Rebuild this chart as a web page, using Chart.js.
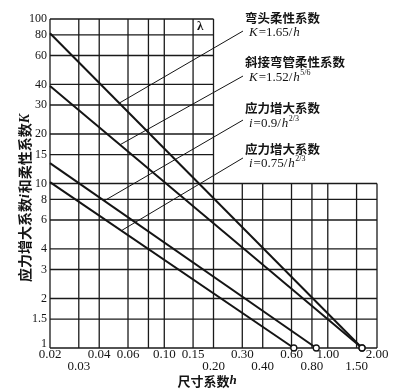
<!DOCTYPE html>
<html>
<head>
<meta charset="utf-8">
<script src="https://cdn.jsdelivr.net/npm/chart.js@4.4.0/dist/chart.umd.min.js"></script>
<style>
html, body { margin: 0; padding: 0; background: #fff; }
#wrap { width: 398px; height: 392px; }
</style>
</head>
<body>
<div id="wrap"><canvas id="chart" width="398" height="392"></canvas></div>
<script>
// axis ticks (log-log grid)
const hTicks = [0.02, 0.03, 0.04, 0.06, 0.08, 0.10, 0.15, 0.20, 0.30, 0.40, 0.60, 0.80, 1.00, 1.50, 2.00];
const hLabelsTop = ['0.02', '0.04', '0.06', '0.10', '0.15', '0.30', '0.60', '1.00', '2.00'];
const hLabelsLow = ['0.03', '0.20', '0.40', '0.80', '1.50'];
const kTicks = [1, 1.5, 2, 3, 4, 6, 8, 10, 15, 20, 30, 40, 60, 80, 100];
const kLabels = ['1', '1.5', '2', '3', '4', '6', '8', '10', '15', '20', '30', '40', '60', '80', '100'];

// curves: value at h = 0.02 and where each reaches 1
const elbowK = [{x: 0.02, y: 82}, {x: 1.62, y: 1}];
const miterK = [{x: 0.02, y: 39.2}, {x: 1.62, y: 1}];
const stressI90 = [{x: 0.02, y: 13.3}, {x: 0.85, y: 1}];
const stressI75 = [{x: 0.02, y: 10.2}, {x: 0.62, y: 1}];

// leader lines: label end -> point on curve
const leaderElbow = [{x: 0.303, y: 84.5}, {x: 0.0536, y: 31}];
const leaderMiter = [{x: 0.303, y: 45}, {x: 0.0536, y: 17.2}];
const leaderI90 = [{x: 0.303, y: 24.3}, {x: 0.0434, y: 7.9}];
const leaderI75 = [{x: 0.303, y: 14.3}, {x: 0.0552, y: 5.2}];

// annotation texts
const noteTitles = ['弯头柔性系数', '斜接弯管柔性系数', '应力增大系数', '应力增大系数'];
const noteFormulas = [
    ['K', '=1.65/', 'h', ''],
    ['K', '=1.52/', 'h', '5/6'],
    ['i', '=0.9/', 'h', '2/3'],
    ['i', '=0.75/', 'h', '2/3']
];

const INK = '#141414';
const SERIF = 'Liberation Serif';
const CJK = '"Noto Sans CJK SC"';

function drawRuns(ctx, x, y, runs) {
    runs.forEach(r => {
        ctx.font = r.font;
        ctx.fillText(r.t, x, y + (r.dy || 0));
        x += ctx.measureText(r.t).width + (r.gap || 0);
    });
}

function runsWidth(ctx, runs) {
    let w = 0;
    runs.forEach(r => {
        ctx.font = r.font;
        w += ctx.measureText(r.t).width + (r.gap || 0);
    });
    return w;
}

const gridPlugin = {
    id: 'loggrid',
    beforeDatasetsDraw(chart) {
        const {ctx, scales: {x, y}} = chart;
        ctx.save();
        ctx.strokeStyle = '#1a1a1a';
        ctx.lineWidth = 1.3;
        const bottom = y.getPixelForValue(1);
        hTicks.forEach(v => {
            const px = x.getPixelForValue(v);
            const top = y.getPixelForValue(v <= 0.2001 ? 100 : 10);
            ctx.beginPath();
            ctx.moveTo(px, top);
            ctx.lineTo(px, bottom);
            ctx.stroke();
        });
        const left = x.getPixelForValue(0.02);
        kTicks.forEach(v => {
            const py = y.getPixelForValue(v);
            const right = x.getPixelForValue(v <= 10.001 ? 2 : 0.2);
            ctx.beginPath();
            ctx.moveTo(left, py);
            ctx.lineTo(right, py);
            ctx.stroke();
        });
        ctx.restore();
    },
    afterDraw(chart) {
        const {ctx, scales: {x, y}} = chart;
        ctx.save();
        ctx.fillStyle = INK;

        // x tick labels, two staggered rows
        ctx.textAlign = 'center';
        ctx.textBaseline = 'middle';
        ctx.font = '13px ' + SERIF;
        const bottom = y.getPixelForValue(1);
        hLabelsTop.forEach(t => ctx.fillText(t, x.getPixelForValue(parseFloat(t)), bottom + 7));
        hLabelsLow.forEach(t => ctx.fillText(t, x.getPixelForValue(parseFloat(t)), bottom + 19));

        // y tick labels
        ctx.textAlign = 'right';
        ctx.font = '12px ' + SERIF;
        kLabels.forEach((t, i) => {
            const py = Math.min(y.getPixelForValue(kTicks[i]), bottom - 4);
            ctx.fillText(t, x.getPixelForValue(0.02) - 3, py);
        });

        // lambda cell
        ctx.textAlign = 'center';
        ctx.font = 'bold 13px ' + SERIF;
        ctx.fillText('λ', (x.getPixelForValue(0.15) + x.getPixelForValue(0.2)) / 2 - 3, 27);

        // notes
        ctx.textAlign = 'left';
        ctx.textBaseline = 'middle';
        const rows = [[18, 33], [62, 78], [108, 124], [149, 164]];
        noteTitles.forEach((t, i) => {
            ctx.font = 'bold 12.5px ' + CJK;
            ctx.fillText(t, 245, rows[i][0]);
            const f = noteFormulas[i];
            drawRuns(ctx, 249, rows[i][1], [
                {t: f[0], font: 'italic 13px ' + SERIF, gap: 1},
                {t: f[1], font: '13px ' + SERIF, gap: 1},
                {t: f[2], font: 'italic 13px ' + SERIF, gap: 0.5},
                {t: f[3], font: '8px ' + SERIF, dy: -5}
            ]);
        });

        // x title
        const xt = [
            {t: '尺寸系数', font: 'bold 13px ' + CJK},
            {t: 'h', font: 'italic bold 13px ' + SERIF}
        ];
        drawRuns(ctx, 207 - runsWidth(ctx, xt) / 2, 381, xt);

        // y title, rotated
        const yt = [
            {t: '应力增大系数', font: 'bold 14px ' + CJK},
            {t: 'i', font: 'italic bold 14px ' + SERIF, gap: 1},
            {t: '和柔性系数', font: 'bold 14px ' + CJK},
            {t: 'K', font: 'italic bold 14px ' + SERIF}
        ];
        ctx.translate(25, 198);
        ctx.rotate(-Math.PI / 2);
        drawRuns(ctx, -runsWidth(ctx, yt) / 2, 0, yt);
        ctx.restore();
    }
};

function curve(data) {
    return {
        data: data,
        borderColor: INK,
        borderWidth: 2,
        pointRadius: [0, 3],
        pointBorderWidth: 1.3,
        pointBorderColor: INK,
        pointBackgroundColor: '#fff',
        clip: false
    };
}

function leader(data) {
    return {
        data: data,
        borderColor: INK,
        borderWidth: 1,
        pointRadius: 0,
        clip: false
    };
}

new Chart(document.getElementById('chart'), {
    type: 'line',
    data: {
        datasets: [
            leader(leaderElbow),
            leader(leaderMiter),
            leader(leaderI90),
            leader(leaderI75),
            curve(elbowK),
            curve(miterK),
            curve(stressI90),
            curve(stressI75)
        ]
    },
    options: {
        responsive: false,
        animation: false,
        layout: {
            padding: {left: 50, right: 21, top: 19, bottom: 44}
        },
        scales: {
            x: {type: 'logarithmic', min: 0.02, max: 2, display: false},
            y: {type: 'logarithmic', min: 1, max: 100, display: false}
        },
        plugins: {
            legend: {display: false},
            tooltip: {enabled: false}
        }
    },
    plugins: [gridPlugin]
});
</script>
</body>
</html>
